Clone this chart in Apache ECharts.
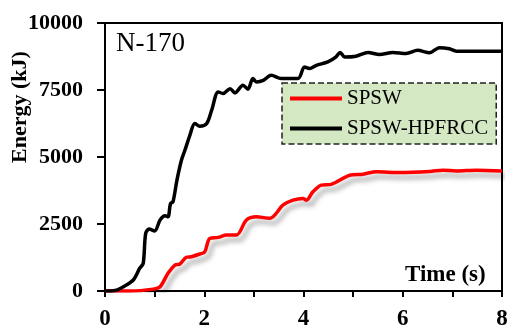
<!DOCTYPE html>
<html><head><meta charset="utf-8">
<script src="https://cdn.jsdelivr.net/npm/echarts@6/dist/echarts.min.js"></script>
<style>html,body{margin:0;padding:0;background:#fff}#c{width:510px;height:326px}</style>
</head><body><div id="c"></div>
<script>
const seriesNames = ['SPSW', 'SPSW-HPFRCC'];
const redTime = [0,0.5,0.97,1.11,1.27,1.41,1.51,1.64,1.74,1.91,2.01,2.11,2.28,2.45,2.65,2.85,3.05,3.32,3.59,3.79,3.99,4.06,4.19,4.36,4.56,4.93,5.20,5.47,5.94,6.54,6.81,7.08,7.48,8.0];
const redEnergy = [0,0,70,160,660,970,1010,1260,1280,1380,1460,1960,2000,2090,2090,2650,2770,2710,3210,3390,3450,3390,3700,3950,3980,4320,4360,4450,4420,4460,4510,4480,4510,4480];
const blackTime = [0,0.2,0.37,0.57,0.70,0.77,0.82,0.89,1.0,1.11,1.21,1.27,1.32,1.37,1.45,1.54,1.61,1.71,1.81,1.91,2.05,2.15,2.28,2.38,2.52,2.62,2.78,2.88,2.98,3.05,3.19,3.35,3.55,3.89,4.02,4.12,4.26,4.49,4.65,4.74,4.83,5.06,5.30,5.53,5.80,6.07,6.30,6.54,6.74,6.94,7.08,8.0];
const blackEnergy = [0,20,160,410,850,1030,2150,2310,2240,2650,2810,2770,3260,3330,4140,4880,5250,5810,6250,6150,6250,6750,7430,7370,7550,7390,7680,7530,7930,7800,7860,8050,7930,7930,8360,8300,8420,8550,8730,8900,8730,8760,8900,8820,8900,8860,8980,8890,9080,9040,8950,8950];
const xTicks = [0,2,4,6,8];
const yTicks = [0,2500,5000,7500,10000];

const serif = "'Liberation Serif','Times New Roman',serif";
const zip = (a,b) => a.map((v,i)=>[v,b[i]]);
const chart = echarts.init(document.getElementById('c'));
chart.setOption({
  animation:false,
  backgroundColor:'#fff',
  grid:{left:105,right:8,top:23,bottom:35,show:true,borderColor:'#000',borderWidth:2,backgroundColor:'transparent',
    containLabel:false,outerBoundsMode:'none'},
  xAxis:{type:'value',min:0,max:8,interval:1,
    axisLine:{lineStyle:{color:'#000',width:2}},
    axisTick:{inside:false,length:6,lineStyle:{color:'#000',width:2}},
    splitLine:{show:false},
    axisLabel:{color:'#000',fontFamily:serif,fontWeight:'bold',fontSize:23,margin:17,hideOverlap:false,
      formatter:v=> xTicks.includes(v)? String(v):''}},
  yAxis:{type:'value',min:0,max:10000,interval:2500,
    axisLine:{show:true,lineStyle:{color:'#000',width:2}},
    axisTick:{show:true,inside:false,length:8,lineStyle:{color:'#000',width:2}},
    splitLine:{show:false},
    axisLabel:{color:'#000',fontFamily:serif,fontWeight:'bold',fontSize:22,margin:22,
      formatter:v=> yTicks.includes(v)? String(v):''}},
  legend:{data:seriesNames,orient:'vertical',left:282,top:83,width:214,icon:'rect',
    padding:[5,8,5,8],itemGap:9,itemWidth:52,itemHeight:4,
    backgroundColor:'#d5e8c4',borderColor:'#222',borderWidth:1.5,borderType:[6,3],
    textStyle:{color:'#000',fontFamily:serif,fontSize:21,padding:[0,10,0,0]}},
  graphic:[
    {type:'text',left:116,top:30,style:{text:'N-170',font:"27px 'Liberation Serif','Times New Roman',serif",fill:'#000'}},
    {type:'text',left:405,top:264,style:{text:'Time (s)',font:"bold 23px 'Liberation Serif','Times New Roman',serif",fill:'#000'}},
    {type:'text',x:20,y:107,rotation:Math.PI/2,style:{text:'Energy (kJ)',font:"bold 22px 'Liberation Serif','Times New Roman',serif",fill:'#000',align:'center',verticalAlign:'middle'}}
  ],
  series:[
    {name:seriesNames[0],type:'line',data:zip(redTime,redEnergy),symbol:'none',smooth:0.3,
      lineStyle:{color:'#ff0000',width:3.5,shadowColor:'rgba(0,0,0,0.35)',shadowBlur:5,shadowOffsetX:4,shadowOffsetY:5},
      itemStyle:{color:'#ff0000'},z:3},
    {name:seriesNames[1],type:'line',data:zip(blackTime,blackEnergy),symbol:'none',smooth:0.3,
      lineStyle:{color:'#000',width:3.5},itemStyle:{color:'#000'},z:4}
  ]
});
</script></body></html>
